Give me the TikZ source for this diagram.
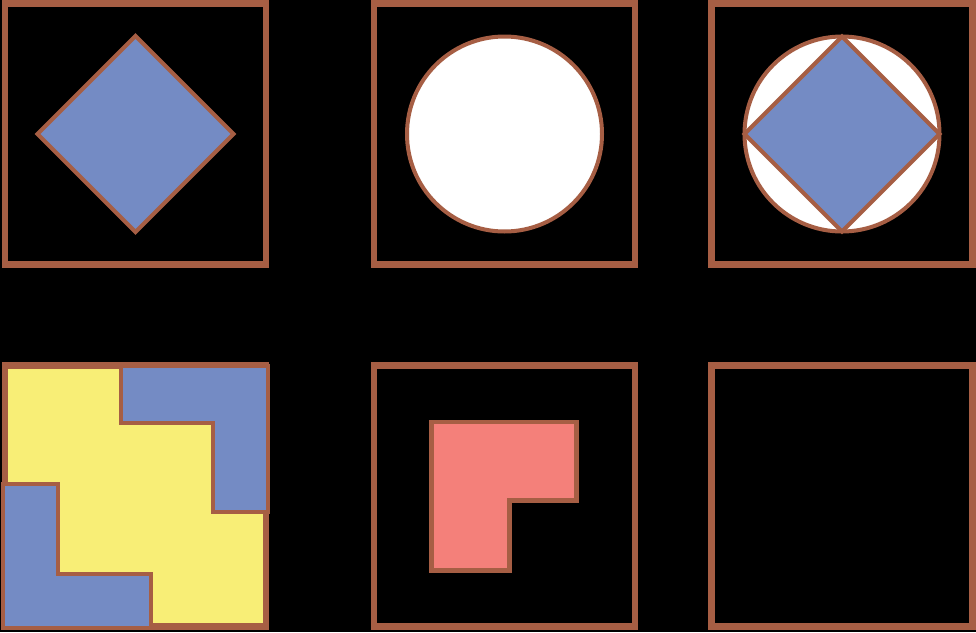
\documentclass[tikz,border=0pt]{standalone}
\usepackage{tikz}

\definecolor{rust}{RGB}{166,94,68}
\definecolor{tileblue}{RGB}{116,139,196}
\definecolor{tileyellow}{RGB}{248,238,118}
\definecolor{tilepink}{RGB}{244,128,122}

\begin{document}
\begin{tikzpicture}[x=1pt,y=-1pt]
\fill[black] (0,0) rectangle (976,632);
\useasboundingbox (0,0) rectangle (976,632);

% top row
\draw[rust, line width=6.5pt] (5,3.5) rectangle (266,264.5);
\draw[rust, line width=6.5pt] (374,3.5) rectangle (635,264.5);
\draw[rust, line width=6.5pt] (711.5,3.5) rectangle (972.5,264.5);

\filldraw[fill=tileblue, draw=rust, line width=4pt] (135.5,36) -- (233.5,134) -- (135.5,232) -- (37.5,134) -- cycle;

\filldraw[fill=white, draw=rust, line width=4pt] (504.5,134) circle (97.5);

\filldraw[fill=white, draw=rust, line width=4pt] (842,134) circle (97.5);
\filldraw[fill=tileblue, draw=rust, line width=4pt] (842,36.5) -- (939.5,134) -- (842,231.5) -- (744.5,134) -- cycle;

% bottom row
\fill[tileyellow] (5,365.5) rectangle (266,626.5);
\draw[rust, line width=6.5pt] (5,365.5) rectangle (266,626.5);
\filldraw[fill=tileblue, draw=rust, line width=4pt] (121,365.5) -- (268,365.5) -- (268,512) -- (213,512) -- (213,423) -- (121,423) -- cycle;
\filldraw[fill=tileblue, draw=rust, line width=4pt] (3,484) -- (58,484) -- (58,574) -- (151,574) -- (151,627.5) -- (3,627.5) -- cycle;

\draw[rust, line width=6.5pt] (374,365.5) rectangle (635,626.5);
\filldraw[fill=tilepink, draw=rust, line width=4.5pt] (431.5,422) -- (576.5,422) -- (576.5,500.5) -- (509.5,500.5) -- (509.5,570.5) -- (431.5,570.5) -- cycle;

\draw[rust, line width=6.5pt] (711.5,365.5) rectangle (972.5,626.5);

\end{tikzpicture}
\end{document}
